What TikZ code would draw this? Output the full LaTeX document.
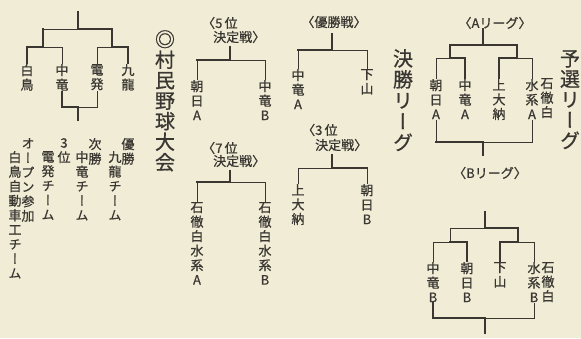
\documentclass[tikz,border=0pt]{standalone}
\usepackage{fontspec}
\usepackage{tikz}
\usetikzlibrary{positioning}
\setmainfont[RawFeature={embolden=0.8}]{Noto Sans CJK JP}
\newfontfamily\tate[RawFeature={+vert;embolden=0.8}]{Noto Sans CJK JP}
\definecolor{paper}{HTML}{F0ECD6}
\definecolor{ink}{HTML}{3A3732}

\begin{document}
\begin{tikzpicture}
	[x=1pt, y=-1pt, line cap=rect, ink,
	 win/.style={draw=ink, line width=2.3pt},
	 lose/.style={draw=ink, line width=1pt},
	 team/.style={font=\fontsize{13}{14.5}\selectfont\tate, align=center, inner sep=1pt, anchor=north},
	 big/.style={font=\fontsize{20}{20.5}\selectfont\tate, align=center, inner sep=0pt, anchor=north},
	 head/.style={font=\fontsize{13}{14}\selectfont, inner sep=0pt}]
   \fill[paper] (0,0) rectangle (581,338);
   \useasboundingbox (0,0) rectangle (581,338);

   % village tournament
   \node[team] (shiratori) at (27,63) {白\\鳥};
   \node[team] (chuuryu) at (62,63) {中\\竜};
   \node[team] (denpatsu) at (97,63) {電\\発};
   \node[team] (kuryuu) at (128,63) {九\\龍};
   \coordinate (lf) at (78,29);
   \coordinate (ll) at (43,47);
   \coordinate (lr) at (112,47);
   \coordinate (lb) at (78,107);
   \draw[win] (shiratori.north) |- (ll) -- (ll |- lf);
   \draw[lose] (chuuryu.north) |- (ll);
   \draw[lose] (denpatsu.north) |- (lr);
   \draw[win] (kuryuu.north) |- (lr) -- (lr |- lf) -- (lf) -- ++(0,-17);
   \draw[lose] (ll |- lf) -- (lf);
   \draw[win] (chuuryu.south) |- (lb) -- ++(0,13);
   \draw[lose] (denpatsu.south) |- (lb);

   \node[team] (firstlabel) at (128,137) {優\\勝};
   \node[team] (firstteam) at (115,150) {九\\龍\\チ\\ー\\ム};
   \node[team] (secondlabel) at (95,137) {次\\勝};
   \node[team] (secondteam) at (82,150) {中\\竜\\チ\\ー\\ム};
   \node[team] (thirdlabel) at (64,137) {3\\位};
   \node[team] (thirdteam) at (48,150) {電\\発\\チ\\ー\\ム};
   \node[team] (openlabel) at (28,137) {オ\\ー\\プ\\ン\\参\\加};
   \node[team] (openteam) at (15,150) {白\\鳥\\自\\動\\車\\工\\チ\\ー\\ム};

   \node[big] (title) at (165,30) {◎\\村\\民\\野\\球\\大\\会};

   % 5th place
   \node[head, anchor=west] (h5a) at (202,23) {〈5\,位};
   \node[head, anchor=west] (h5b) at (213,37) {決定戦〉};
   \node[team] (asahiA5) at (197,79) {朝\\日\\A};
   \node[team] (chuuryuB5) at (265,79) {中\\竜\\B};
   \coordinate (m5) at (230,60);
   \draw[win] ([yshift=-4pt]h5b.south -| m5) -- (m5) -- (m5 -| asahiA5.north);
   \draw[lose] (asahiA5.north) -- (asahiA5.north |- m5);
   \draw[lose] (m5) -| (chuuryuB5.north);

   % 7th place
   \node[head, anchor=west] (h7a) at (202,148) {〈7\,位};
   \node[head, anchor=west] (h7b) at (213,161) {決定戦〉};
   \node[team] (sekiA7) at (197,201) {石\\徹\\白\\水\\系\\A};
   \node[team] (sekiB7) at (265,201) {石\\徹\\白\\水\\系\\B};
   \coordinate (m7) at (230,182);
   \draw[win] ([yshift=-4pt]h7b.south -| m7) -- (m7) -- (m7 -| sekiA7.north);
   \draw[lose] (sekiA7.north) -- (sekiA7.north |- m7);
   \draw[lose] (m7) -| (sekiB7.north);

   % final
   \node[head] (hf) at (334,22) {〈優勝戦〉};
   \node[team] (chuuryuAf) at (298,68) {中\\竜\\A};
   \node[team] (shimoyamaf) at (367,68) {下\\山};
   \coordinate (mf) at (332,50);
   \draw[win] ([yshift=-6pt]hf.south -| mf) -- (mf) -- (mf -| chuuryuAf.north);
   \draw[lose] (chuuryuAf.north) -- (chuuryuAf.north |- mf);
   \draw[lose] (mf) -| (shimoyamaf.north);

   \node[big, font=\fontsize{20}{21}\selectfont\tate] (kesshou) at (403,49) {決\\勝\\リ\\ー\\グ};

   % 3rd place
   \node[head, anchor=west] (h3a) at (302,130) {〈3\,位};
   \node[head, anchor=west] (h3b) at (315,145) {決定戦〉};
   \node[team] (kamioonou3) at (298,183) {上\\大\\納};
   \node[team] (asahiB3) at (367,183) {朝\\日\\B};
   \coordinate (m3) at (332,168);
   \draw[win] ([yshift=-4pt]h3b.south -| m3) -- (m3) -- (m3 -| asahiB3.north);
   \draw[lose] (asahiB3.north) -- (asahiB3.north |- m3);
   \draw[lose] (m3) -| (kamioonou3.north);

   % A league
   \node[head] (ha) at (495,23) {〈Aリーグ〉};
   \node[team] (asahiA) at (436,78) {朝\\日\\A};
   \node[team] (chuuryuA) at (465,78) {中\\竜\\A};
   \node[team] (kamioonouA) at (499,78) {上\\大\\納};
   \node[team] (suikeiA) at (532,78) {水\\系\\A};
   \node[team] (sekiA) at (547,77) {石\\徹\\白};
   \coordinate (ma) at (483,45);
   \coordinate (mal) at (450,58);
   \coordinate (mar) at (517,58);
   \coordinate (mab) at (483,142);
   \draw[win] (ha.south -| ma) -- (ma);
   \draw[win] (mal) |- (ma) -| (mar);
   \draw[win] (mal) -| (chuuryuA.north);
   \draw[lose] (mal) -| (asahiA.north);
   \draw[win] (mar) -| (kamioonouA.north);
   \draw[lose] (mar) -| (suikeiA.north);
   \draw[lose] (asahiA.south) -- (asahiA.south |- mab);
   \draw[win] (asahiA.south |- mab) -- (mab) -- ++(0,13);
   \draw[lose] (suikeiA.south) |- (mab);

   % B league
   \node[head] (hb) at (490,173) {〈Bリーグ〉};
   \node[team] (chuuryuB) at (433,261) {中\\竜\\B};
   \node[team] (asahiB) at (467,261) {朝\\日\\B};
   \node[team] (shimoyamaB) at (500,261) {下\\山};
   \node[team] (suikeiB) at (534,261) {水\\系\\B};
   \node[team] (sekiB) at (548,261) {石\\徹\\白};
   \coordinate (mb) at (485,228);
   \coordinate (mbl) at (450,242);
   \coordinate (mbr) at (518,242);
   \coordinate (mbb) at (485,318);
   \draw[win] ([yshift=-33pt]hb.south -| mb) -- (mb) -| (mbr);
   \draw[lose] (mbl) |- (mb);
   \draw[lose] (mbl) -| (chuuryuB.north);
   \draw[win] (mbl) -| (asahiB.north);
   \draw[win] (mbr) -| (shimoyamaB.north);
   \draw[lose] (mbr) -| (suikeiB.north);
   \draw[win] (chuuryuB.south) |- (mbb) -- ++(0,15);
   \draw[lose] (suikeiB.south) |- (mbb);

   \node[big] (yosen) at (570,50) {予\\選\\リ\\ー\\グ};
\end{tikzpicture}
\end{document}
